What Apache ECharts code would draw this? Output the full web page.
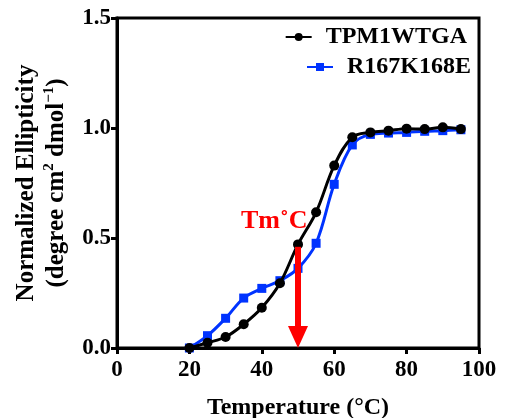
<!DOCTYPE html>
<html>
<head>
<meta charset="UTF-8">
<title></title>
<style>
  html, body { margin: 0; padding: 0; background: #fff; }
</style>
</head>
<body>
<div id="main" style="width: 505px;height:418px;"></div>
<script src="https://cdn.jsdelivr.net/npm/echarts@6/dist/echarts.min.js"></script>
<script>
// temperature points (°C)
var temps = [20, 25, 30, 35, 40, 45, 50, 55, 60, 65, 70, 75, 80, 85, 90, 95];
// normalized ellipticity
var wtVals = [0.0, 0.024, 0.05, 0.108, 0.183, 0.294, 0.471, 0.617, 0.829, 0.958, 0.98, 0.988, 0.997, 0.995, 1.003, 0.995];
var mutVals = [0.0, 0.056, 0.135, 0.227, 0.271, 0.306, 0.362, 0.476, 0.744, 0.923, 0.971, 0.977, 0.98, 0.985, 0.988, 0.992];
var seriesNames = ['TPM1WTGA', 'R167K168E'];
var tmTemp = 50;
var tmTop = 0.46;

function pairs(xs, ys) {
  return xs.map(function (x, i) { return [x, ys[i]]; });
}

var font = 'Liberation Serif';
var legendText = { fontFamily: font, fontWeight: 'bold', fontSize: 24, color: '#000', padding: [0, 0, 0, 9] };
var chart = echarts.init(document.getElementById('main'));
chart.setOption({
  animation: false,
  grid: {
    left: 117, right: 26, top: 18, bottom: 70,
    outerBoundsMode: 'none',
    show: true, borderColor: '#000', borderWidth: 3
  },
  legend: [{
    data: [seriesNames[0]],
    right: 33, top: 20,
    itemWidth: 26, itemHeight: 10, itemGap: 12,
    textStyle: legendText
  }, {
    data: [seriesNames[1]],
    right: 29, top: 50,
    itemWidth: 26, itemHeight: 10, itemGap: 12,
    textStyle: legendText
  }],
  xAxis: {
    type: 'value', min: 0, max: 100, interval: 20,
    name: 'Temperature (°C)', nameLocation: 'middle', nameGap: 48,
    nameTextStyle: { fontFamily: font, fontWeight: 'bold', fontSize: 24, color: '#000' },
    axisLine: { lineStyle: { color: '#000', width: 3 } },
    axisTick: { length: 6, lineStyle: { width: 3 } },
    axisLabel: { fontFamily: font, fontWeight: 'bold', fontSize: 23, color: '#000', margin: 11 },
    splitLine: { show: false }
  },
  yAxis: {
    type: 'value', min: 0, max: 1.5, interval: 0.5,
    name: 'Normalized Ellipticity\n(degree cm{sup|2} dmol{sup|−1})',
    nameLocation: 'middle', nameRotate: 90, nameGap: 45,
    nameTextStyle: {
      fontFamily: font, fontWeight: 'bold', fontSize: 25, color: '#000', lineHeight: 30,
      rich: {
        sup: { fontFamily: font, fontWeight: 'bold', fontSize: 15, color: '#000', verticalAlign: 'top', lineHeight: 30 }
      }
    },
    axisLine: { lineStyle: { color: '#000', width: 3 } },
    axisTick: { length: 6, lineStyle: { width: 3 } },
    axisLabel: {
      fontFamily: font, fontWeight: 'bold', fontSize: 23, color: '#000', margin: 6,
      formatter: function (v) { return v.toFixed(1); }
    },
    splitLine: { show: false }
  },
  series: [{
    name: seriesNames[1],
    type: 'line',
    data: pairs(temps, mutVals),
    smooth: 0.35,
    symbol: 'rect', symbolSize: 9,
    itemStyle: { color: '#0033ff' },
    lineStyle: { color: '#0033ff', width: 3 },
    z: 2
  }, {
    name: seriesNames[0],
    type: 'line',
    data: pairs(temps, wtVals),
    smooth: 0.35,
    symbol: 'circle', symbolSize: 10,
    itemStyle: { color: '#000' },
    lineStyle: { color: '#000', width: 3 },
    z: 3,
    markLine: {
      silent: true,
      animation: false,
      lineStyle: { color: '#ff0000', width: 6, type: 'solid' },
      label: { show: false },
      symbol: ['none', 'triangle'],
      symbolSize: [20, 22],
      data: [[
        { coord: [tmTemp, tmTop] },
        { coord: [tmTemp, 0.05] }
      ]]
    }
  }],
  graphic: [{
    type: 'text',
    left: 241, top: 208,
    style: {
      text: 'Tm˚C',
      fontFamily: font, fontWeight: 'bold', fontSize: 26, fill: '#ff0000'
    }
  }]
});
</script>
</body>
</html>
